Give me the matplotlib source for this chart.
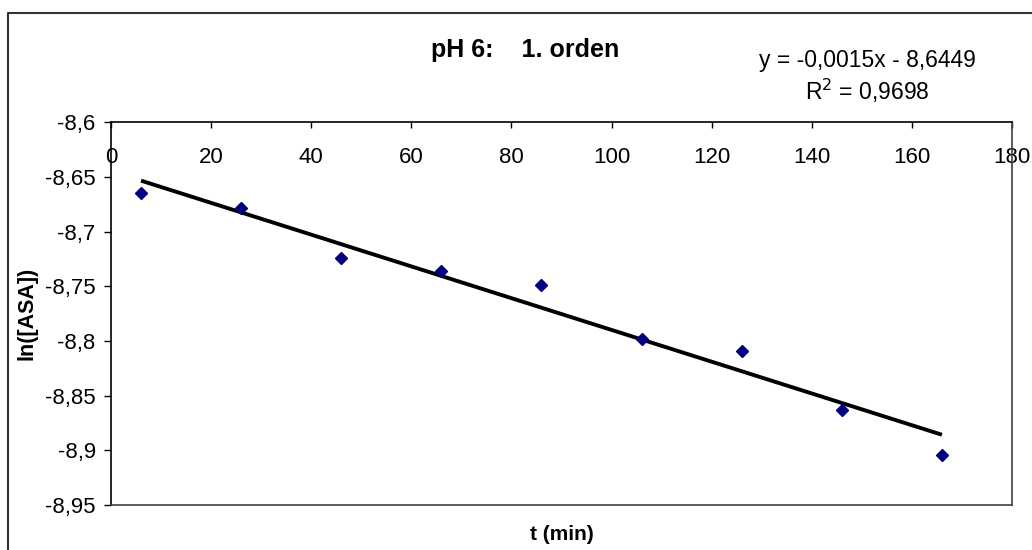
import numpy as np
import matplotlib
matplotlib.use("Agg")
from matplotlib import pyplot as plt
from matplotlib.lines import Line2D
from matplotlib.ticker import FuncFormatter, MultipleLocator

plt.rcParams['font.family'] = ['Liberation Sans', 'DejaVu Sans']

# measured data: time (min) and ln of ASA concentration
t_min = [6, 26, 46, 66, 86, 106, 126, 146, 166]
ln_asa = [-8.665, -8.678, -8.724, -8.736, -8.749, -8.798, -8.809, -8.863, -8.904]

title = "pH 6:    1. orden"
eq_text = "y = -0,0015x - 8,6449\nR$^2$ = 0,9698"
x_label = "t (min)"
y_label = "ln([ASA])"

W, H = 1032, 550
fig = plt.figure(figsize=(W / 100, H / 100), dpi=100)
ax = fig.add_axes([111 / W, 1 - 505 / H, (1012 - 111) / W, (505 - 122.3) / H])

x = np.array(t_min)
y = np.array(ln_asa)

# linear trendline, like Excel's
slope, intercept = np.polyfit(x, y, 1)
ax.plot(x, slope * x + intercept, color='black', lw=2.8, solid_capstyle='butt', zorder=2)
ax.plot(x, y, linestyle='none', marker='D', ms=6.5, color='#000080', zorder=3)

ax.set_xlim(0, 180)
ax.set_ylim(-8.95, -8.6)
ax.xaxis.set_major_locator(MultipleLocator(20))
ax.yaxis.set_major_locator(MultipleLocator(0.05))

comma = FuncFormatter(lambda v, p: f"{v:.10g}".replace('.', ','))
ax.xaxis.set_major_formatter(comma)
ax.yaxis.set_major_formatter(comma)

# x axis sits at the top (y = -8.6), labels drawn under it
ax.tick_params(axis='x', bottom=False, labelbottom=False, top=True, labeltop=True,
               direction='in', length=4.5, width=1, pad=-33, labelsize=16)
ax.tick_params(axis='y', direction='out', length=5, width=1, pad=6, labelsize=16)

for side in ['left', 'top']:
    ax.spines[side].set_color('black')
    ax.spines[side].set_linewidth(1.2)
for side in ['right', 'bottom']:
    ax.spines[side].set_color('#404040')
    ax.spines[side].set_linewidth(1.2)

fig.text(525 / W, 1 - 50 / H, title, ha='center', va='center', fontsize=18, fontweight='bold')
fig.text(867 / W, 1 - 77 / H, eq_text, ha='center', va='center', fontsize=16.5,
         multialignment='center', linespacing=1.25)
fig.text(562 / W, 1 - 535 / H, x_label, ha='center', va='center', fontsize=15, fontweight='bold')
fig.text(27 / W, 1 - 313 / H, y_label, ha='center', va='center', fontsize=15.5,
         fontweight='bold', rotation=90)

# chart area border (only left and top edges are visible)
bx, by = 7.5 / W, 1 - 13 / H
fig.add_artist(Line2D([bx, bx, 1.0], [0.0, by, by], transform=fig.transFigure,
                      color='#333333', lw=1.5))

fig.savefig("out.png", dpi=100)
